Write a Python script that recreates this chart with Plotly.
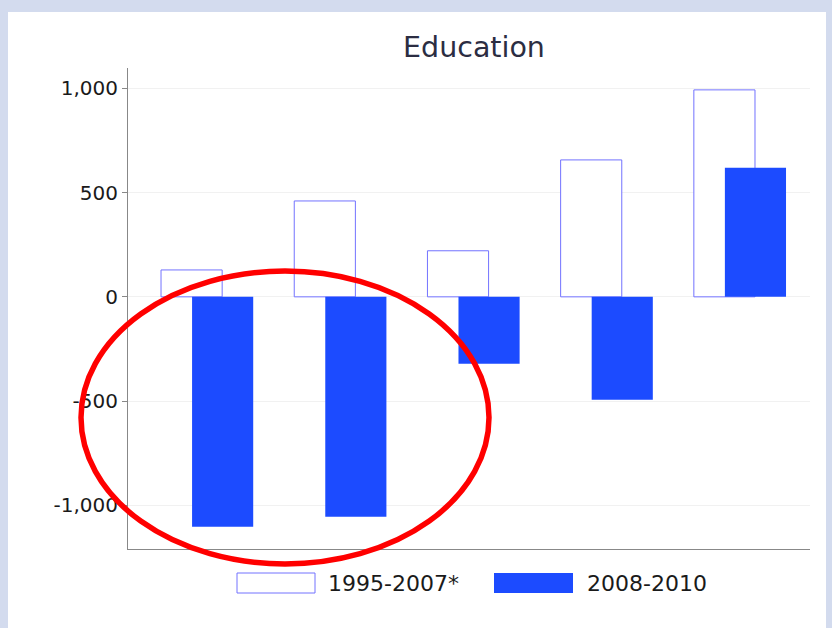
import plotly.graph_objects as go

categories = [0, 1, 2, 3, 4]
series_names = ["1995-2007*", "2008-2010"]
values_1995_2007 = [129, 460, 221, 657, 993]
values_2008_2010 = [-1103, -1055, -321, -494, 619]
tick_vals = [-1000, -500, 0, 500, 1000]
tick_text = ["-1,000", "-500", "0", "500", "1,000"]

OUTLINE = "#7272ff"
FILL = "#1c4bff"

fig = go.Figure()
fig.add_trace(go.Bar(
    x=categories, y=values_1995_2007, name=series_names[0],
    width=0.459, offset=-0.342,
    marker=dict(color="rgba(255,255,255,1)", line=dict(color=OUTLINE, width=1)),
    showlegend=False,
))
fig.add_trace(go.Bar(
    x=categories, y=values_2008_2010, name=series_names[1],
    width=0.459, offset=-0.109,
    marker=dict(color=FILL, line=dict(color=FILL, width=0)),
    showlegend=False,
))

L, R, T, B = 128, 810, 68, 549
W, H = R - L, B - T

def px(x):
    return (x - L) / W

def py(y):
    return (B - y) / H

shapes = [
    dict(type="rect", xref="paper", yref="paper", x0=px(8), x1=px(826), y0=py(640), y1=py(12),
         fillcolor="white", line=dict(width=0), layer="below"),
    dict(type="rect", xref="paper", yref="paper", x0=px(237), x1=px(315), y0=py(593), y1=py(573),
         fillcolor="white", line=dict(color=OUTLINE, width=1)),
    dict(type="rect", xref="paper", yref="paper", x0=px(494), x1=px(573), y0=py(593), y1=py(573),
         fillcolor=FILL, line=dict(width=0)),
    dict(type="circle", xref="paper", yref="paper", x0=px(81), x1=px(489), y0=py(564), y1=py(271),
         line=dict(color="#ff0000", width=5.5), fillcolor="rgba(0,0,0,0)"),
]

annotations = [
    dict(text=series_names[0], xref="paper", yref="paper", x=px(326), y=py(583),
         xanchor="left", yanchor="middle", showarrow=False,
         font=dict(family="DejaVu Sans", size=22, color="#1a1a1a")),
    dict(text=series_names[1], xref="paper", yref="paper", x=px(585), y=py(583),
         xanchor="left", yanchor="middle", showarrow=False,
         font=dict(family="DejaVu Sans", size=22, color="#1a1a1a")),
]

fig.update_layout(
    width=832, height=628,
    margin=dict(l=L, r=832 - R, t=T, b=628 - B, pad=0),
    paper_bgcolor="#d3dbee",
    plot_bgcolor="rgba(0,0,0,0)",
    barmode="overlay",
    showlegend=False,
    hovermode=False,
    title=dict(text="Education", x=px(474), xref="paper", xanchor="center",
               y=1 - 47 / 628, yref="container", yanchor="middle",
               font=dict(family="DejaVu Sans", size=28.5, color="#2b2d42")),
    xaxis=dict(range=[-0.59, 4.53], showticklabels=False, ticks="", showgrid=False,
               zeroline=False, showline=True, linecolor="#888888", linewidth=1),
    yaxis=dict(range=[-1210, 1098], tickvals=tick_vals, ticktext=tick_text,
               ticks="outside", ticklen=5, tickcolor="#888888",
               showline=True, linecolor="#888888", linewidth=1,
               showgrid=True, gridcolor="#f1f1f1", zeroline=False,
               tickfont=dict(family="DejaVu Sans", size=20, color="#1a1a1a")),
    shapes=shapes,
    annotations=annotations,
)

fig.write_html("out.html", config={"displayModeBar": False},
               post_script="document.body.style.margin='0';")
